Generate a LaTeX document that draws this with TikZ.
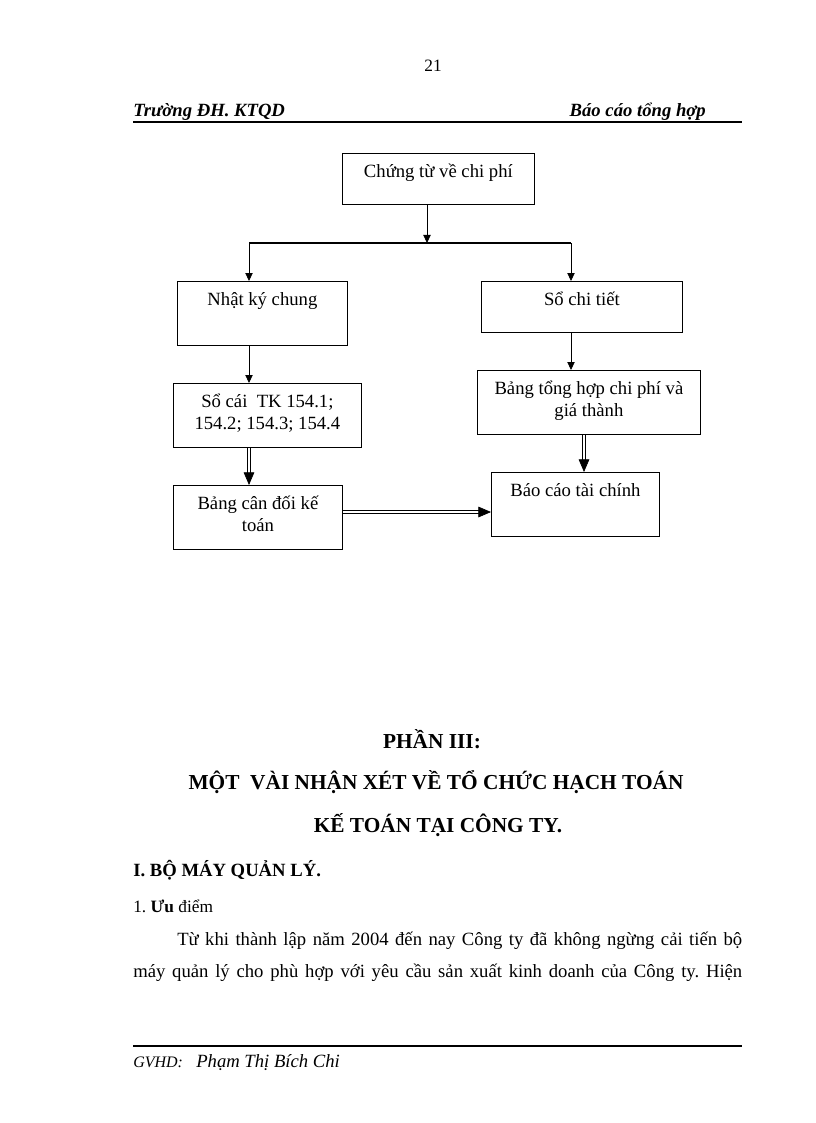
\documentclass[tikz,border=0pt]{standalone}
\usepackage{fontspec}
\setmainfont{Liberation Serif}
\usetikzlibrary{arrows.meta}
\frenchspacing

\begin{document}
\begin{tikzpicture}[x=0.75pt, y=-0.75pt,
    box/.style={draw, line width=0.6pt, anchor=north west, inner sep=0pt},
    lbl/.style={anchor=base, align=center, inner sep=0pt, font=\fontsize{14}{16.5}\selectfont},
    arr/.style={line width=0.6pt, -{Triangle[length=6pt, width=5.5pt]}},
    dbl/.style={double, double distance=1.8pt, line width=0.5pt, -{Triangle[length=9.5pt, width=8pt]}},
    txt/.style={anchor=base west, inner sep=0pt, font=\fontsize{14}{16}\selectfont},
    hd/.style={anchor=base, inner sep=0pt, font=\fontsize{16}{19}\selectfont\bfseries}]
  \useasboundingbox (0,0) rectangle (816,1123);
  % header
  \node[txt, anchor=base, font=\fontsize{13}{16}\selectfont] (pg) at (433,72) {21};
  \node[txt, font=\fontsize{14}{16}\selectfont\bfseries\itshape] (sch) at (133,117) {Trường ĐH. KTQD};
  \node[txt, anchor=base east, font=\fontsize{14}{16}\selectfont\bfseries\itshape] (rep) at (706,117) {Báo cáo tổng hợp};
  \coordinate (hl) at (133,122);
  \coordinate (hr) at (742,122);
  \draw[line width=1pt] (hl) -- (hr);
  % boxes: name/x/y/width/height/lines/text
  \foreach \n/\x/\y/\w/\h/\k/\t in {ct/342/153/192/51/1/{Chứng từ về chi phí},
                                    nk/177/281/170/64/1/{Nhật ký chung},
                                    sct/481/281/201/51/1/{Sổ chi tiết},
                                    sc/173/383/188/64/2/{Sổ cái\ \ TK 154.1;\\154.2; 154.3; 154.4},
                                    bth/477/370/223/64/2/{Bảng tổng hợp chi phí và\\giá thành},
                                    bcd/173/485/169/64/2/{Bảng cân đối kế\\toán},
                                    bctc/491/472/168/64/1/{Báo cáo tài chính}}{
    \node[box, minimum width=\w*0.75pt, minimum height=\h*0.75pt] (\n) at (\x,\y) {};
    \node[lbl] (\n-t) at ([yshift=-18.4pt-(\k-1)*16.5pt]\n.north) {\t};}
  % connectors
  \coordinate (sp) at (427,243);
  \coordinate (sl) at (249,243);
  \coordinate (sr) at (571,243);
  \coordinate (bx) at (584,0);
  \coordinate (hy) at (0,512);
  \draw[arr] (sp |- ct.south) -- (sp);
  \draw[line width=0.8pt] (sl) -- (sr);
  \draw[arr] (sl) -- (sl |- nk.north);
  \draw[arr] (sr) -- (sr |- sct.north);
  \draw[arr] (sl |- nk.south) -- (sl |- sc.north);
  \draw[arr] (sr |- sct.south) -- (sr |- bth.north);
  \draw[dbl] (sl |- sc.south) -- (sl |- bcd.north);
  \draw[dbl] (bx |- bth.south) -- (bx |- bctc.north);
  \draw[dbl] (bcd.east |- hy) -- (bctc.west |- hy);
  % text below
  \node[hd] (p3) at (432,748) {PHẦN III:};
  \node[hd] (t1) at (436,789) {MỘT\ \ VÀI NHẬN XÉT VỀ TỔ CHỨC HẠCH TOÁN};
  \node[hd] (t2) at (438,832) {KẾ TOÁN TẠI CÔNG TY.};
  \node[txt, font=\fontsize{14}{16}\selectfont\bfseries] (s1) at (133,876) {I. BỘ MÁY QUẢN LÝ.};
  \node[txt, font=\fontsize{13}{16}\selectfont] (s11) at (133,912) {1. \textbf{Ưu} điểm};
  \node[txt] (l1) at (177,945) {\makebox[423.75pt][s]{Từ khi thành lập năm 2004 đến nay Công ty đã không ngừng cải tiến bộ}};
  \node[txt] (l2) at (133,977) {\makebox[456.75pt][s]{máy quản lý cho phù hợp với yêu cầu sản xuất kinh doanh của Công ty. Hiện}};
  % footer
  \coordinate (fl) at (133,1046);
  \coordinate (fr) at (742,1046);
  \draw[line width=0.8pt] (fl) -- (fr);
  \node[txt, font=\fontsize{12}{14}\selectfont\itshape] (gv) at (133,1067) {GVHD:};
  \node[txt, font=\fontsize{14}{16}\selectfont\itshape] (nm) at (196,1067) {Phạm Thị Bích Chi};
\end{tikzpicture}
\end{document}
